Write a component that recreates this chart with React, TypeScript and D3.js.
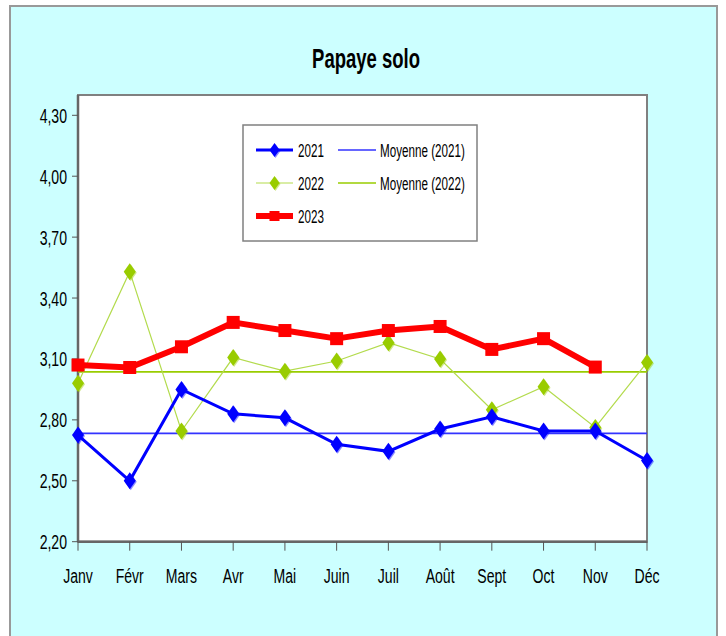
import React from "react";
import * as d3 from "d3";

const months = ["Janv", "Févr", "Mars", "Avr", "Mai", "Juin", "Juil", "Août", "Sept", "Oct", "Nov", "Déc"];
const values2021 = [2.725, 2.5, 2.95, 2.83, 2.81, 2.68, 2.645, 2.755, 2.815, 2.745, 2.745, 2.6];
const values2022 = [2.98, 3.53, 2.745, 3.107, 3.04, 3.09, 3.18, 3.1, 2.85, 2.963, 2.763, 3.083];
const values2023 = [3.07, 3.058, 3.16, 3.28, 3.24, 3.2, 3.24, 3.26, 3.147, 3.2, 3.06];
const yTicks = [2.2, 2.5, 2.8, 3.1, 3.4, 3.7, 4.0, 4.3];
const title = "Papaye solo";

const W = 726, H = 636;
const FONT = "'Liberation Sans', Arial, sans-serif";
const plot = { left: 78, right: 647, top: 95, bottom: 541.7 };

const x = d3.scalePoint<string>().domain(months).range([plot.left, plot.right]);
const y = d3.scaleLinear().domain([2.2, 4.4]).range([plot.bottom, plot.top]);

const fmt = (v: number) => v.toFixed(2).replace(".", ",");

function NText({ x: tx, y: ty, sx = 0.67, size = 21, anchor = "start", weight = "normal", children }: any) {
  return (
    <g transform={`translate(${tx},${ty}) scale(${sx},1)`}>
      <text x={0} y={0} textAnchor={anchor} fontSize={size} fontWeight={weight} fill="#000">{children}</text>
    </g>
  );
}

function Diamond({ cx, cy, fill, hw = 6, hh = 8.5 }: any) {
  return (
    <g>
      <path d={`M${cx + 1},${cy - hh + 1}L${cx + hw + 1},${cy + 1}L${cx + 1},${cy + hh + 1}L${cx - hw + 1},${cy + 1}Z`} fill={fill} opacity={0.45} />
      <path d={`M${cx},${cy - hh}L${cx + hw},${cy}L${cx},${cy + hh}L${cx - hw},${cy}Z`} fill={fill} />
    </g>
  );
}

function Square({ cx, cy, s = 13, fill }: any) {
  return <rect x={cx - s / 2} y={cy - s / 2} width={s} height={s} fill={fill} />;
}

export default function App() {
  const line = d3.line<number>().x((_, i) => x(months[i])!).y((d) => y(d));
  const mean21 = d3.mean(values2021)!;
  const mean22 = d3.mean(values2022)!;

  const lg = { x: 243, y: 125, w: 234, h: 116 };
  const rows = [150, 183, 216];
  const LS = 18.5, LX = 0.63;

  return (
    <svg width={W} height={H} style={{ position: "absolute", left: 0, top: 0 }} fontFamily={FONT}>
      <rect x={0} y={0} width={W} height={H} fill="#ffffff" />
      <rect x={10} y={6} width={707} height={640} fill="#CCFFFF" stroke="#999999" strokeWidth={2} />
      <NText x={366} y={68} size={28} sx={0.66} anchor="middle" weight="bold">{title}</NText>

      {/* plot area */}
      <rect x={plot.left} y={plot.top} width={plot.right - plot.left} height={plot.bottom - plot.top} fill="#ffffff" stroke="#808080" strokeWidth={2} />
      <line x1={plot.left} x2={plot.left} y1={plot.top} y2={plot.bottom} stroke="#666666" strokeWidth={2.5} />
      <line x1={plot.left} x2={plot.right} y1={plot.bottom} y2={plot.bottom} stroke="#666666" strokeWidth={2.5} />

      {/* y ticks */}
      {yTicks.map((t) => (
        <g key={t}>
          <line x1={plot.left - 6} x2={plot.left} y1={y(t)} y2={y(t)} stroke="#555" strokeWidth={1} />
          <NText x={plot.left - 11} y={y(t) + 7.5} anchor="end">{fmt(t)}</NText>
        </g>
      ))}
      {/* x ticks */}
      {months.map((m) => (
        <g key={m}>
          <line x1={x(m)} x2={x(m)} y1={plot.bottom} y2={plot.bottom + 9} stroke="#555" strokeWidth={1} />
          <NText x={x(m)} y={plot.bottom + 41} anchor="middle">{m}</NText>
        </g>
      ))}

      {/* mean lines */}
      <line x1={plot.left} x2={plot.right} y1={y(mean21)} y2={y(mean21)} stroke="#3333FF" strokeWidth={1.6} />
      <line x1={plot.left} x2={plot.right} y1={y(mean22)} y2={y(mean22)} stroke="#99CC00" strokeWidth={1.8} />

      {/* 2022 */}
      <path d={line(values2022)!} fill="none" stroke="#B3DB4D" strokeWidth={1.2} />
      {values2022.map((v, i) => <Diamond key={i} cx={x(months[i])} cy={y(v)} fill="#99CC00" />)}

      {/* 2021 */}
      <path d={line(values2021)!} fill="none" stroke="#0000FF" strokeWidth={3} />
      {values2021.map((v, i) => <Diamond key={i} cx={x(months[i])} cy={y(v)} fill="#0000FF" />)}

      {/* 2023 */}
      <path d={line(values2023)!} fill="none" stroke="#FF0000" strokeWidth={6} strokeLinejoin="round" />
      {values2023.map((v, i) => <Square key={i} cx={x(months[i])} cy={y(v)} fill="#FF0000" />)}

      {/* legend */}
      <rect x={lg.x} y={lg.y} width={lg.w} height={lg.h} fill="#ffffff" stroke="#808080" strokeWidth={1.5} />
      <line x1={256} x2={293} y1={rows[0]} y2={rows[0]} stroke="#0000FF" strokeWidth={3} />
      <Diamond cx={274.5} cy={rows[0]} fill="#0000FF" hw={5} hh={7} />
      <NText x={298} y={rows[0] + 6.6} size={LS} sx={LX}>2021</NText>
      <line x1={256} x2={293} y1={rows[1]} y2={rows[1]} stroke="#B3DB4D" strokeWidth={1.2} />
      <Diamond cx={274.5} cy={rows[1]} fill="#99CC00" hw={5} hh={7} />
      <NText x={298} y={rows[1] + 6.6} size={LS} sx={LX}>2022</NText>
      <line x1={256} x2={293} y1={rows[2]} y2={rows[2]} stroke="#FF0000" strokeWidth={6} />
      <Square cx={274.5} cy={rows[2]} s={10} fill="#FF0000" />
      <NText x={298} y={rows[2] + 6.6} size={LS} sx={LX}>2023</NText>
      <line x1={338} x2={376} y1={rows[0]} y2={rows[0]} stroke="#3333FF" strokeWidth={1.5} />
      <NText x={380} y={rows[0] + 6.6} size={LS} sx={LX}>Moyenne (2021)</NText>
      <line x1={338} x2={376} y1={rows[1]} y2={rows[1]} stroke="#99CC00" strokeWidth={1.5} />
      <NText x={380} y={rows[1] + 6.6} size={LS} sx={LX}>Moyenne (2022)</NText>
    </svg>
  );
}
